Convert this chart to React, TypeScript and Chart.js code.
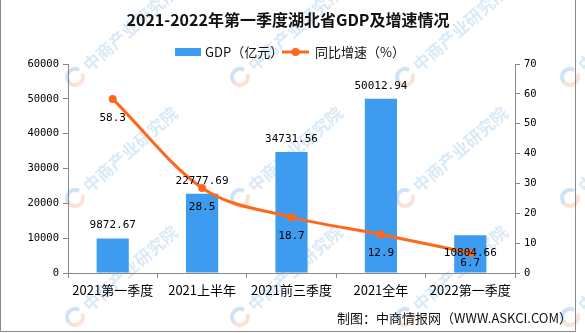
import React, { useEffect, useRef } from "react";
import { Chart, registerables } from "chart.js";

Chart.register(...registerables);

const titleText = "2021-2022年第一季度湖北省GDP及增速情况";
const gdpLegend = "GDP（亿元）";
const growthLegend = "同比增速（%）";
const footerText = "制图：中商情报网（WWW.ASKCI.COM）";
const watermarkText = "中商产业研究院";

const categories = ["2021第一季度", "2021上半年", "2021前三季度", "2021全年", "2022第一季度"];
const gdpValues = [9872.67, 22777.69, 34731.56, 50012.94, 10804.66];
const growthValues = [58.3, 28.5, 18.7, 12.9, 6.7];
const gdpAxis = { min: 0, max: 60000, step: 10000 };
const growthAxis = { min: 0, max: 70, step: 10 };
const watermarkCols = [75, 240, 405, 570];
const watermarkRows = [-43, 77, 198, 317];

const BAR = "#3d9cef";
const LINE = "#ff671c";
const AXIS = "#888888";
const CJK = "'Noto Sans CJK SC', sans-serif";
const MONO = "'DejaVu Sans Mono', 'Noto Sans CJK SC', monospace";

const decor = {
  id: "decor",
  beforeDraw(chart: any) {
    const ctx = chart.ctx;
    ctx.save();
    ctx.fillStyle = "#ffffff";
    ctx.fillRect(0, 0, chart.width, chart.height);
    // watermarks
    watermarkCols.forEach((cx) => {
      watermarkRows.forEach((cy) => {
        ctx.save();
        ctx.translate(cx, cy);
        ctx.rotate(-0.72);
        ctx.lineWidth = 4;
        ctx.strokeStyle = "rgba(245,170,140,0.35)";
        ctx.beginPath();
        ctx.arc(0, 0, 8, Math.PI * 0.1, Math.PI * 1.0);
        ctx.stroke();
        ctx.strokeStyle = "rgba(120,175,225,0.35)";
        ctx.beginPath();
        ctx.arc(0, 0, 8, Math.PI * 1.0, Math.PI * 1.9);
        ctx.stroke();
        ctx.fillStyle = "rgba(120,175,225,0.28)";
        ctx.font = `bold 17px ${CJK}`;
        ctx.textAlign = "left";
        ctx.textBaseline = "middle";
        ctx.fillText(watermarkText, 14, 0);
        ctx.restore();
      });
    });
    // frame
    ctx.strokeStyle = AXIS;
    ctx.lineWidth = 1;
    ctx.beginPath();
    ctx.moveTo(0.5, 0);
    ctx.lineTo(0.5, 331.5);
    ctx.lineTo(575.5, 331.5);
    ctx.lineTo(575.5, 0);
    ctx.stroke();
    // title
    ctx.fillStyle = "#111";
    ctx.font = `bold 16px ${CJK}`;
    ctx.textAlign = "center";
    ctx.textBaseline = "middle";
    ctx.fillText(titleText, 288, 20);
    // legend
    ctx.font = `13px ${CJK}`;
    ctx.textAlign = "left";
    ctx.fillStyle = BAR;
    ctx.fillRect(175, 48, 26, 8);
    ctx.fillStyle = "#111";
    ctx.fillText(gdpLegend, 205, 52);
    ctx.strokeStyle = LINE;
    ctx.lineWidth = 3;
    ctx.beginPath();
    ctx.moveTo(282, 52);
    ctx.lineTo(309, 52);
    ctx.stroke();
    ctx.fillStyle = LINE;
    ctx.beginPath();
    ctx.arc(295.5, 52, 4, 0, Math.PI * 2);
    ctx.fill();
    ctx.fillStyle = "#111";
    ctx.fillText(growthLegend, 315, 52);
    // footer
    ctx.textAlign = "right";
    ctx.fillText(footerText, 572, 318);
    ctx.restore();
  },
  afterDraw(chart: any) {
    const ctx = chart.ctx;
    const area = chart.chartArea;
    const lineMeta = chart.getDatasetMeta(0);
    const barMeta = chart.getDatasetMeta(1);
    ctx.save();
    ctx.font = `11px ${MONO}`;
    ctx.fillStyle = "#000";
    ctx.textAlign = "center";
    ctx.textBaseline = "middle";
    barMeta.data.forEach((bar: any, i: number) => {
      const pt = lineMeta.data[i];
      let y = bar.y - 13;
      if (pt.y > bar.y && pt.y - bar.y < 25) y = pt.y;
      ctx.fillText(gdpValues[i].toFixed(2), bar.x, y);
    });
    lineMeta.data.forEach((pt: any, i: number) => {
      const y = Math.min(pt.y + 19, area.bottom - 10);
      ctx.fillText(growthValues[i].toFixed(1), pt.x, y);
    });
    ctx.restore();
  },
};

export default function App() {
  const ref = useRef<HTMLCanvasElement>(null);
  useEffect(() => {
    document.body.style.margin = "0";
    const axisCommon = {
      grid: { drawOnChartArea: false, drawTicks: true, tickLength: 5, color: AXIS },
      border: { display: true, color: AXIS },
    };
    const chart = new Chart(ref.current as HTMLCanvasElement, {
      type: "bar",
      data: {
        labels: categories,
        datasets: [
          {
            type: "line",
            label: growthLegend,
            data: growthValues,
            yAxisID: "y1",
            borderColor: LINE,
            backgroundColor: LINE,
            borderWidth: 3,
            pointRadius: 4,
            pointBorderWidth: 0,
            pointBackgroundColor: LINE,
            cubicInterpolationMode: "monotone",
            order: 1,
          } as any,
          {
            type: "bar",
            label: gdpLegend,
            data: gdpValues,
            yAxisID: "y",
            backgroundColor: BAR,
            barPercentage: 0.36,
            categoryPercentage: 1,
            order: 2,
          } as any,
        ],
      },
      options: {
        responsive: false,
        devicePixelRatio: 1,
        animation: false,
        layout: { padding: { top: 64, left: 0, right: 0, bottom: 0 } },
        plugins: { legend: { display: false }, title: { display: false }, tooltip: { enabled: false } },
        scales: {
          x: {
            offset: true,
            grid: { offset: true, drawOnChartArea: false, drawTicks: true, tickLength: 5, color: AXIS },
            border: { display: true, color: AXIS },
            ticks: { color: "#000", font: { family: CJK, size: 13 }, padding: 4, maxRotation: 0 },
            afterFit: (s: any) => { s.height = 60; },
          },
          y: {
            position: "left",
            min: gdpAxis.min,
            max: gdpAxis.max,
            ...axisCommon,
            ticks: {
              stepSize: gdpAxis.step,
              color: "#000",
              font: { family: MONO, size: 10.5 },
              padding: 4,
              callback: (v: any) => String(v),
            },
            afterFit: (s: any) => { s.width = 68; },
          },
          y1: {
            position: "right",
            min: growthAxis.min,
            max: growthAxis.max,
            ...axisCommon,
            ticks: {
              stepSize: growthAxis.step,
              color: "#000",
              font: { family: MONO, size: 10.5 },
              padding: 4,
              callback: (v: any) => String(v),
            },
            afterFit: (s: any) => { s.width = 70; },
          },
        },
      } as any,
      plugins: [decor],
    });
    return () => chart.destroy();
  }, []);
  return (
    <div style={{ position: "absolute", left: 0, top: 0, width: 585, height: 333 }}>
      <canvas ref={ref} width={585} height={333} style={{ display: "block", width: 585, height: 333 }} />
    </div>
  );
}
